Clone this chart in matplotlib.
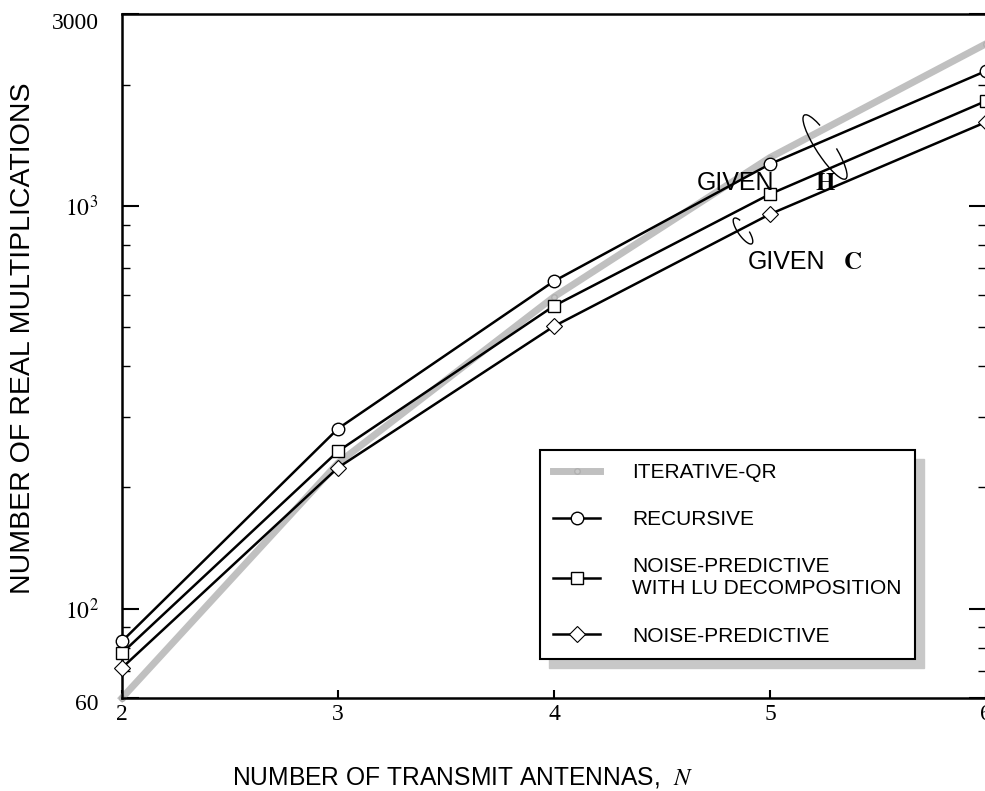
#Complexity of detection algorithms vs. number of transmit antennas
import matplotlib
matplotlib.use('Agg')
import matplotlib.pyplot as plt
from matplotlib.patches import Arc, Rectangle
from matplotlib.ticker import FixedLocator, NullFormatter
from matplotlib.transforms import IdentityTransform, ScaledTranslation

plt.rcParams['mathtext.fontset'] = 'stix'

#Number of transmit antennas
antennas = [2, 3, 4, 5, 6]
#Real multiplications for each algorithm
iterative_qr = [60, 230, 595, 1320, 2530]
recursive = [83, 280, 651, 1272, 2166]
np_lu = [77.6, 246, 565, 1071, 1824]
noise_pred = [71.3, 224, 503, 955, 1617]

ytick_vals = [60, 100, 1000, 3000]
ytick_labels = ['60', r'$10^2$', r'$10^3$', '3000']
yminor_vals = [70, 80, 90, 200, 300, 400, 500, 600, 700, 800, 900, 2000]

W, H = 985, 791
fig = plt.figure(figsize=(W/100, H/100), dpi=100)
ax = fig.add_axes([122/W, (H-698)/H, 864/W, 684/H])

#Plot each series
ax.plot(antennas, iterative_qr, color='#c0c0c0', lw=5, marker='o', ms=4,
        mfc='#c8c8c8', mec='#b0b0b0', label='ITERATIVE-QR', zorder=2, clip_on=False)
ax.plot(antennas, recursive, color='black', lw=1.8, marker='o', ms=9,
        mfc='white', mec='black', mew=1, label='RECURSIVE', zorder=3, clip_on=False)
ax.plot(antennas, np_lu, color='black', lw=1.8, marker='s', ms=8.5,
        mfc='white', mec='black', mew=1,
        label='NOISE-PREDICTIVE\nWITH LU DECOMPOSITION', zorder=3, clip_on=False)
ax.plot(antennas, noise_pred, color='black', lw=1.8, marker='D', ms=8,
        mfc='white', mec='black', mew=0.8, label='NOISE-PREDICTIVE', zorder=3, clip_on=False)

#Axis formatting
ax.set_yscale('log')
ax.set_xlim(2, 6)
ax.set_ylim(60, 3000)
ax.yaxis.set_major_locator(FixedLocator(ytick_vals))
ax.set_yticklabels(ytick_labels)
ax.yaxis.set_minor_locator(FixedLocator(yminor_vals))
ax.yaxis.set_minor_formatter(NullFormatter())
ax.set_xticks(antennas)
ax.tick_params(axis='y', which='major', direction='in', length=12, width=1.5,
               right=True, pad=17, labelsize=17, labelfontfamily='Liberation Serif')
ax.tick_params(axis='y', which='minor', direction='in', length=6, width=1, right=True)
ax.tick_params(axis='x', which='major', direction='in', length=6, width=1.5,
               pad=4, labelsize=17, labelfontfamily='Liberation Serif')
for s in ax.spines.values():
    s.set_linewidth(1.8)
#Nudge the end labels down a little, as in the original
ylabs = ax.get_yticklabels()
ylabs[0].set_transform(ylabs[0].get_transform() + ScaledTranslation(0, -4/100, fig.dpi_scale_trans))
ylabs[-1].set_transform(ylabs[-1].get_transform() + ScaledTranslation(0, -7/100, fig.dpi_scale_trans))

#Axis labels
fig.text(463/W, (H-777)/H, 'NUMBER OF TRANSMIT ANTENNAS,  $\\mathit{N}$',
         ha='center', va='center', fontsize=17.7, family='Liberation Sans')
fig.text(23/W, (H-338)/H, 'NUMBER OF REAL MULTIPLICATIONS', rotation=90,
         ha='center', va='center', fontsize=20.5, family='Liberation Sans')

#Legend with offset shadow
leg = ax.legend(loc='upper left', bbox_to_anchor=(540/W, (H-450)/H),
                bbox_transform=fig.transFigure, borderaxespad=0, fancybox=False,
                edgecolor='black', framealpha=1, numpoints=1, handlelength=2.26,
                handletextpad=1.54, labelspacing=1.35, borderpad=0.63,
                prop={'family': 'Liberation Sans', 'size': 15})
leg.get_frame().set_linewidth(1.5)
leg.set_zorder(10)
fig.canvas.draw()
bb = leg.get_window_extent()
ax.add_patch(Rectangle((bb.x0 + 9, bb.y0 - 9), bb.width, bb.height,
                       transform=IdentityTransform(), color='#c8c8c8',
                       zorder=9, clip_on=False))

#Annotations for the two groups of curves
fig.text(697/W, (H-183)/H, 'GIVEN', ha='left', va='center',
         fontsize=18, family='Liberation Sans')
fig.text(815/W, (H-183)/H, r'$\mathbf{H}$', ha='left', va='center', fontsize=18)
fig.text(748/W, (H-262)/H, 'GIVEN', ha='left', va='center',
         fontsize=18, family='Liberation Sans')
fig.text(843/W, (H-262)/H, r'$\mathbf{C}$', ha='left', va='center', fontsize=18)
fig.patches.append(Arc((825, H-147), 18, 76, angle=33, theta1=70, theta2=320,
                       transform=IdentityTransform(), color='black', lw=1,
                       figure=fig, zorder=5))
fig.patches.append(Arc((743, H-231), 10, 31, angle=35, theta1=70, theta2=320,
                       transform=IdentityTransform(), color='black', lw=1,
                       figure=fig, zorder=5))

fig.savefig('out.png', dpi=100)
